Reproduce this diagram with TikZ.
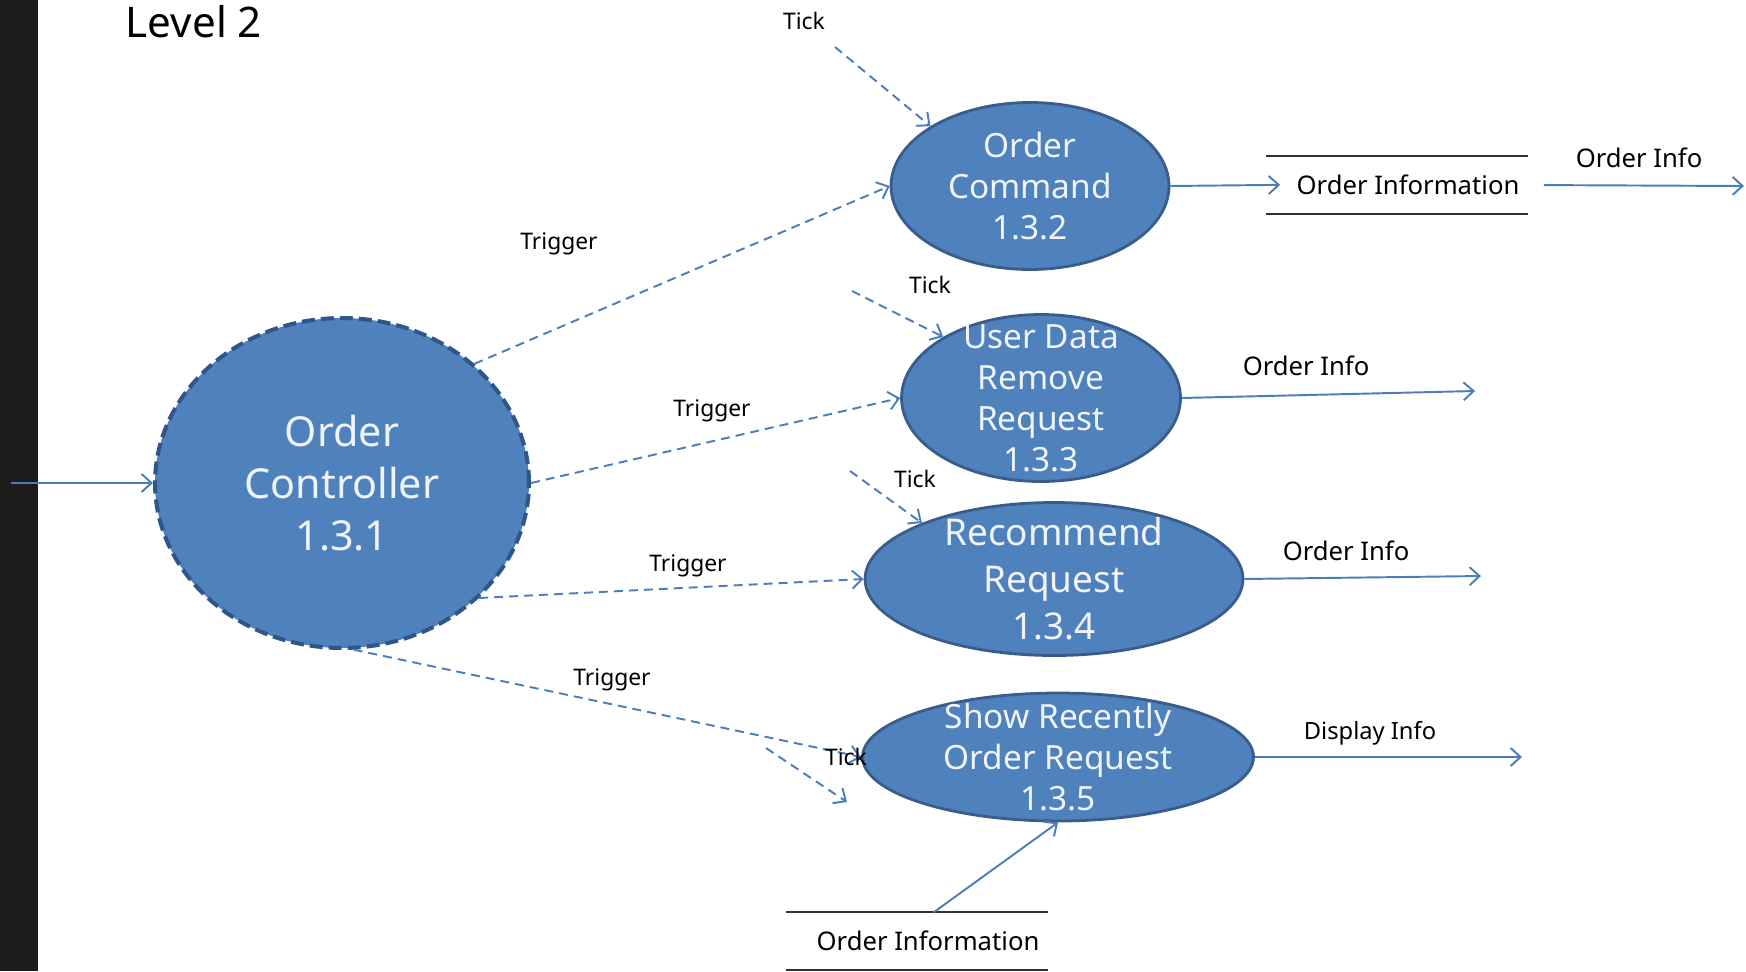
\documentclass[tikz,border=0pt]{standalone}
\usepackage{fontspec}
\setmainfont{Noto Sans}
\usetikzlibrary{arrows.meta, shapes.geometric}
\tikzset{>={Straight Barb[length=2mm,width=3.6mm]}}
\definecolor{pfill}{HTML}{4F81BD}
\definecolor{pedge}{HTML}{385D8A}
\definecolor{cedge}{HTML}{2F5688}
\definecolor{flowblue}{HTML}{4A7EBB}
\definecolor{ptext}{HTML}{F0F4FA}
\definecolor{strip}{HTML}{1C1C1C}

\begin{document}
\begin{tikzpicture}[x=0.02cm, y=-0.02cm,
    proc/.style={ellipse, draw=pedge, line width=1.6pt, fill=pfill, inner sep=0pt},
    ptxt/.style={text=ptext, align=center},
    flow/.style={draw=flowblue, line width=1.1pt, ->},
    trig/.style={flow, dash pattern=on 0.18cm off 0.12cm},
    lbl/.style={font=\fontsize{13}{16}\selectfont},
    store/.style={minimum width=5.22cm, minimum height=1.13cm, inner sep=0pt},
    stxt/.style={font=\fontsize{14.6}{17}\selectfont, xshift=0.22cm}]

    \fill[white] (0,0) rectangle (1746,971);
    \fill[strip] (0,0) rectangle (38,971);
    \useasboundingbox (0,0) rectangle (1746,971);

    \node[font=\fontsize{24}{29}\selectfont] (title) at (194,22) {Level 2};

    \node[proc, draw=cedge, line width=2.3pt, dash pattern=on 0.26cm off 0.12cm, minimum width=7.48cm, minimum height=6.6cm, label={[ptxt, font=\fontsize{23.5}{29.6}\selectfont]center:{Order\\Controller\\1.3.1}}] (C) at (342,483) {};
    \node[proc, minimum width=5.56cm, minimum height=3.34cm, label={[ptxt, font=\fontsize{19}{23.3}\selectfont]center:{Order\\Command\\1.3.2}}] (P1) at (1030,186) {};
    \node[proc, minimum width=5.58cm, minimum height=3.34cm, label={[ptxt, font=\fontsize{19}{23.3}\selectfont]center:{User Data\\Remove\\Request\\1.3.3}}] (P2) at (1041,398) {};
    \node[proc, minimum width=7.56cm, minimum height=3.06cm, label={[ptxt, font=\fontsize{21}{26.7}\selectfont]center:{Recommend\\Request\\1.3.4}}] (P3) at (1054,579) {};
    \node[proc, minimum width=7.82cm, minimum height=2.56cm, label={[ptxt, font=\fontsize{19}{23.3}\selectfont]center:{Show Recently\\Order Request\\1.3.5}}] (P4) at (1058,757) {};

    \node[store, label={[stxt]center:Order Information}] (St1) at (1397,185) {};
    \node[store, label={[stxt]center:Order Information}] (St2) at (917,941) {};
    \draw[line width=1.1pt, black!80] (St1.north west) -- (St1.north east) (St1.south west) -- (St1.south east);
    \draw[line width=1.1pt, black!80] (St2.north west) -- (St2.north east) (St2.south west) -- (St2.south east);

    \coordinate (in) at (11,483);
    \coordinate (tk1) at (835,47);
    \coordinate (tk2) at (852,291);
    \coordinate (tk3) at (850,471);
    \coordinate (tk4s) at (766,748);
    \coordinate (tk4e) at (847,802);
    \coordinate (o1) at (1744,186);
    \coordinate (o2) at (1475,391);
    \coordinate (o3) at (1481,576);
    \coordinate (o4) at (1522,757);

    \draw[flow] (in) -- (C.west);
    \draw[trig] (C.42) -- (P1.west);
    \draw[trig] (C.east) -- (P2.west);
    \draw[trig] (C.-40) -- (P3.west);
    \draw[trig] (C.-86) -- (P4.west);

    \draw[trig] (tk1) -- (P1.149);
    \draw[trig] (tk2) -- (P2.148);
    \draw[trig] (tk3) -- (P3.157);
    \draw[trig] (tk4s) -- (tk4e);

    \draw[flow, shorten >=-0.28cm] (P1.east) -- (St1.west);
    \draw[flow, shorten <=0.32cm] (St1.east) -- (o1);
    \draw[flow] (P2.east) -- (o2);
    \draw[flow] (P3.east) -- (o3);
    \draw[flow] (P4.east) -- (o4);
    \draw[flow] (St2.60) -- (P4.south);

    \node[lbl] (tick1) at (804,21) {Tick};
    \node[lbl] (tick2) at (930,285) {Tick};
    \node[lbl] (tick3) at (915,479) {Tick};
    \node[lbl] (tick4) at (846,757) {Tick};

    \node[lbl] (trig1) at (559,244) {Trigger};
    \node[lbl] (trig2) at (712,411) {Trigger};
    \node[lbl] (trig3) at (688,566) {Trigger};
    \node[lbl] (trig4) at (612,680) {Trigger};

    \node[font=\fontsize{14.6}{17}\selectfont] (info1) at (1639,158) {Order Info};
    \node[font=\fontsize{14.6}{17}\selectfont] (info2) at (1306,366) {Order Info};
    \node[font=\fontsize{14.6}{17}\selectfont] (info3) at (1346,551) {Order Info};
    \node[font=\fontsize{13.5}{16}\selectfont] (disp) at (1370,733) {Display Info};
  \end{tikzpicture}
\end{document}
